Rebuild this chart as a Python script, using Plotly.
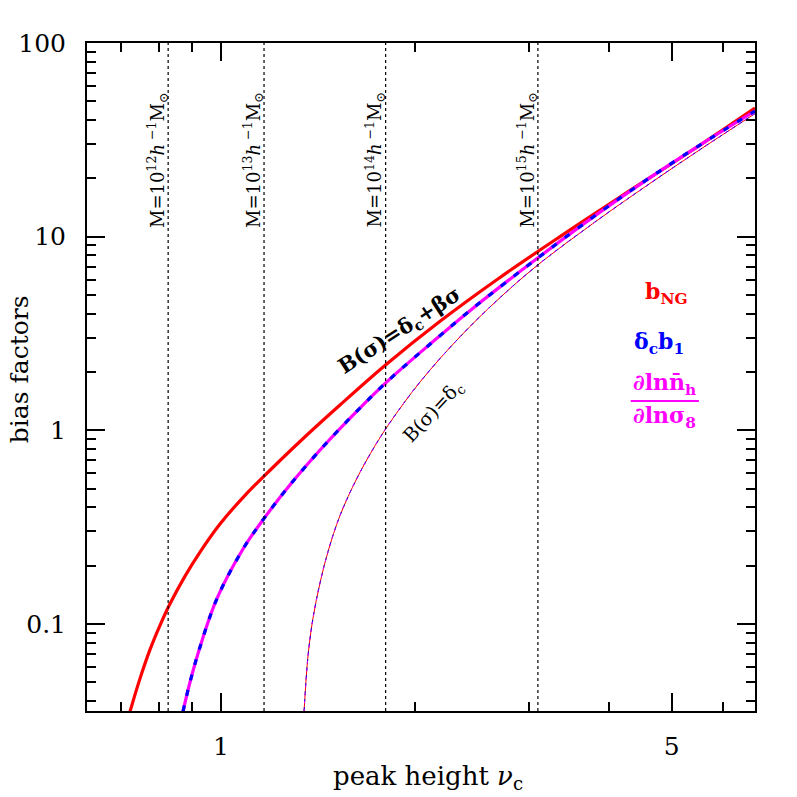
import math
import plotly.graph_objects as go

# b_NG curve (red)
nu_ng = [0.7227, 0.7490, 0.7758, 0.8043, 0.8335, 0.8794, 0.9278, 0.9964, 1.0894,
         1.1912, 1.3257, 1.5292, 1.8030, 2.1857, 2.7076, 3.3543, 4.1554, 5.3346,
         6.7285]
b_ng = [0.0353, 0.0523, 0.0734, 0.0982, 0.1269, 0.1765, 0.2349, 0.3279, 0.4613,
        0.6214, 0.8752, 1.3497, 2.1856, 3.6541, 6.152, 10.0, 16.02, 27.43, 46.14]

# delta_c b_1 and dln n / dln sigma8 (blue / magenta, coincident)
nu_b1 = [0.8731, 0.8953, 0.9278, 0.9858, 1.0817, 1.1701, 1.2797, 1.4393, 1.6249,
         1.8094, 2.1087, 2.4322, 3.0899, 3.8697, 4.6255, 5.5286, 6.7285]
b_b1 = [0.0353, 0.0501, 0.0760, 0.1353, 0.2435, 0.3559, 0.5229, 0.8219, 1.2567,
        1.7830, 2.7826, 4.1464, 7.705, 13.38, 20.18, 29.72, 44.53]

# B(sigma)=delta_c curve (thin)
nu_dc = [1.3451, 1.3645, 1.3890, 1.4241, 1.4653, 1.5292, 1.6249, 1.7331, 1.8282,
         2.0347, 2.3475, 2.6788, 3.0899, 3.8697, 4.6255, 5.5286, 6.7285]
b_dc = [0.0353, 0.0687, 0.1074, 0.1629, 0.2361, 0.3624, 0.5655, 0.8315, 1.0960,
        1.7747, 3.039, 4.681, 7.083, 12.42, 18.83, 28.12, 43.17]

# peak heights for the halo masses
mass_nu = [0.828, 1.166, 1.80, 3.10]
mass_exp = [12, 13, 14, 15]

x_major = [1, 5]
x_minor = [0.7, 0.8, 0.9, 2, 3, 4, 6]
y_major = [0.1, 1, 10, 100]
y_minor = [0.04, 0.05, 0.06, 0.07, 0.08, 0.09] + \
          [k * 0.1 for k in range(2, 10)] + list(range(2, 10)) + \
          list(range(20, 100, 10))

FONT = "DejaVu Serif"

fig = go.Figure()

fig.add_trace(go.Scatter(x=nu_ng, y=b_ng, mode="lines",
                         line=dict(color="red", width=3.2, shape="spline")))
fig.add_trace(go.Scatter(x=nu_b1, y=b_b1, mode="lines",
                         line=dict(color="magenta", width=3.2, shape="spline")))
fig.add_trace(go.Scatter(x=nu_b1, y=b_b1, mode="lines",
                         line=dict(color="blue", width=3.2, dash="6px,10px",
                                   shape="spline")))
fig.add_trace(go.Scatter(x=nu_dc, y=b_dc, mode="lines",
                         line=dict(color="red", width=1, shape="spline")))
fig.add_trace(go.Scatter(x=nu_dc, y=b_dc, mode="lines",
                         line=dict(color="blue", width=1, dash="4px,4px",
                                   shape="spline")))
fig.add_trace(go.Scatter(x=nu_dc, y=b_dc, mode="lines",
                         line=dict(color="magenta", width=1, dash="2px,6px",
                                   shape="spline")))

for nu, e in zip(mass_nu, mass_exp):
    fig.add_shape(type="line", xref="x", yref="paper", x0=nu, x1=nu, y0=0, y1=1,
                  line=dict(color="black", width=1.2, dash="dot"))
    fig.add_annotation(x=math.log10(nu), xref="x", y=0.825, yref="paper",
                       text=f"M=10<sup>{e}</sup><i>h</i><sup> −1</sup>M<sub>⊙</sub>",
                       textangle=-90, showarrow=False, xshift=-11,
                       xanchor="center", yanchor="middle",
                       font=dict(family=FONT, size=18, color="black"))

fig.add_annotation(x=0.2775, y=0.517, xref="x", yref="y",
                   text="<b>B(σ)=δ<sub>c</sub>+βσ</b>", textangle=-33,
                   xanchor="center", yanchor="middle",
                   showarrow=False, font=dict(family=FONT, size=21, color="black"))
fig.add_annotation(x=0.330, y=0.098, xref="x", yref="y",
                   text="B(σ)=δ<sub>c</sub>", textangle=-47,
                   xanchor="center", yanchor="middle",
                   showarrow=False, font=dict(family=FONT, size=19, color="black"))

# legend-like labels
legend_items = [
    (0.868, 0.626, "<b>b<sub>NG</sub></b>", "red"),
    (0.856, 0.551, "<b>δ<sub>c</sub>b<sub>1</sub></b>", "blue"),
    (0.864, 0.490, "<b>∂lnn\u0304<sub>h</sub></b>", "magenta"),
    (0.864, 0.440, "<b>∂lnσ<sub>8</sub></b>", "magenta"),
]
for lx, ly, txt, col in legend_items:
    fig.add_annotation(x=lx, y=ly, xref="paper", yref="paper", text=txt,
                       showarrow=False, xanchor="center", yanchor="middle",
                       font=dict(family=FONT, size=22, color=col))
fig.add_shape(type="line", xref="paper", yref="paper", x0=0.814, x1=0.916,
              y0=0.464, y1=0.464, line=dict(color="magenta", width=2))

# axis titles
fig.add_annotation(x=0.51, y=-0.099, xref="paper", yref="paper",
                   text="peak height <i>ν</i><sub>c</sub>", showarrow=False,
                   xanchor="center", yanchor="middle",
                   font=dict(family=FONT, size=26, color="black"))
fig.add_annotation(x=-0.1, y=0.512, xref="paper", yref="paper",
                   text="bias factors", textangle=-90, showarrow=False,
                   xanchor="center", yanchor="middle",
                   font=dict(family=FONT, size=25, color="black"))

axis_common = dict(showgrid=False, zeroline=False, showline=True, linecolor="black",
                   linewidth=2, mirror="allticks", ticks="inside", ticklen=18,
                   tickwidth=1.5, tickcolor="black", automargin=False,
                   tickfont=dict(family=FONT, size=25, color="black"))

fig.update_xaxes(type="log", range=[-0.2078, 0.828], tickmode="array",
                 tickvals=x_major, ticktext=[str(v) for v in x_major],
                 ticklabelstandoff=12,
                 minor=dict(tickmode="array", tickvals=x_minor, ticks="inside",
                            ticklen=9, tickwidth=1.5, tickcolor="black"),
                 **axis_common)
fig.update_yaxes(type="log", range=[-1.45, 2.0], tickmode="array",
                 tickvals=y_major, ticktext=["0.1", "1", "10", "100"],
                 ticklabelstandoff=14,
                 minor=dict(tickmode="array", tickvals=y_minor, ticks="inside",
                            ticklen=9, tickwidth=1.5, tickcolor="black"),
                 **axis_common)

fig.update_layout(width=797, height=797, showlegend=False,
                  margin=dict(l=87, r=42, t=43, b=86),
                  plot_bgcolor="white", paper_bgcolor="white")

# drop the default body margin so the figure sits at the page corner
fig.write_html("out.html", config={"displayModeBar": False},
               post_script="document.body.style.margin='0';")
